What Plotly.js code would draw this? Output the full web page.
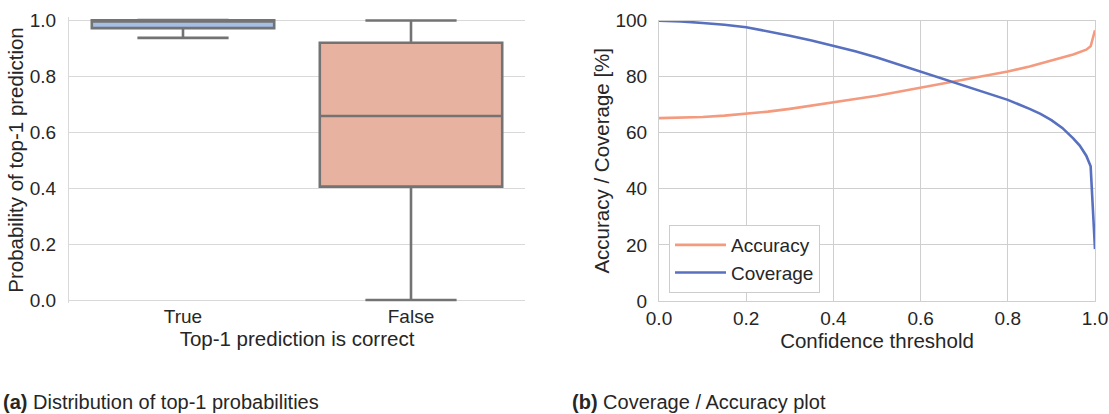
<!DOCTYPE html>
<html>
<head>
<meta charset="utf-8">
<script src="https://cdn.plot.ly/plotly-3.0.1.min.js"></script>
<style>html,body{margin:0;padding:0;background:#fff;}#chart{width:1109px;height:414px;}</style>
</head>
<body>
<div id="chart"></div>
<script>
// ---- Data (a): box statistics of top-1 probabilities ----
const boxCategories = ["True", "False"];
const boxLowerFence = [0.936, 0.0];
const boxQ1 = [0.971, 0.405];
const boxMedian = [0.995, 0.657];
const boxQ3 = [0.999, 0.919];
const boxUpperFence = [1.0, 0.998];

// ---- Data (b): coverage / accuracy vs confidence threshold ----
const thresholds = [0, 0.05, 0.1, 0.15, 0.2, 0.25, 0.3, 0.35, 0.4, 0.45, 0.5, 0.55, 0.6, 0.65, 0.7, 0.75, 0.8, 0.85, 0.875, 0.9, 0.925, 0.95, 0.965, 0.98, 0.99, 1.0];
const accuracy = [65.2, 65.3, 65.6, 66.1, 66.7, 67.5, 68.5, 69.6, 70.8, 72.0, 73.2, 74.6, 76.0, 77.5, 79.0, 80.4, 81.8, 83.6, 84.6, 85.7, 86.8, 87.9, 88.7, 89.6, 90.8, 96.5];
const coverage = [99.9, 99.7, 99.1, 98.5, 97.6, 96.2, 94.6, 92.9, 91.0, 89.0, 86.8, 84.3, 81.8, 79.2, 76.8, 74.3, 71.7, 68.5, 66.7, 64.5, 61.7, 58.0, 55.4, 51.8, 48.0, 18.5];

const boxFills = ["#a6bde6", "#e7b3a0"];
const FONT = "Liberation Sans, Arial, sans-serif";
const TXT = "#262626";
const W = 1109, H = 414;

const traces = boxCategories.map((c, i) => ({
  type: "box",
  x: [c],
  q1: [boxQ1[i]], median: [boxMedian[i]], q3: [boxQ3[i]],
  lowerfence: [boxLowerFence[i]], upperfence: [boxUpperFence[i]],
  fillcolor: boxFills[i],
  line: {color: "#737373", width: 2.6},
  width: 0.8,
  whiskerwidth: 0.5,
  xaxis: "x", yaxis: "y",
  showlegend: false,
  hoverinfo: "skip"
}));

traces.push({
  type: "scatter", mode: "lines", name: "Accuracy",
  x: thresholds, y: accuracy,
  line: {color: "#f49a7e", width: 2.6},
  xaxis: "x2", yaxis: "y2"
});
traces.push({
  type: "scatter", mode: "lines", name: "Coverage",
  x: thresholds, y: coverage,
  line: {color: "#5870c0", width: 2.6},
  xaxis: "x2", yaxis: "y2"
});

const tickFont = {family: FONT, size: 19, color: TXT};
const titleFont = {family: FONT, size: 20.5, color: TXT};

const layout = {
  width: W, height: H,
  margin: {l: 0, r: 0, t: 0, b: 0},
  paper_bgcolor: "#fff", plot_bgcolor: "#fff",
  showlegend: true,
  font: {family: FONT, color: TXT},
  xaxis: {
    domain: [69 / W, 525 / W],
    type: "category",
    range: [-0.5, 1.5],
    showgrid: false, zeroline: false, showline: false,
    ticks: "", tickfont: tickFont,
    title: {text: "Top-1 prediction is correct", font: titleFont, standoff: 4}
  },
  yaxis: {
    domain: [(H - 302.8) / H, (H - 17.2) / H],
    range: [-0.01, 1.01],
    tickvals: [0, 0.2, 0.4, 0.6, 0.8, 1.0],
    ticktext: ["0.0", "0.2", "0.4", "0.6", "0.8", "1.0"],
    showgrid: true, gridcolor: "#d9d9d9", gridwidth: 1,
    zeroline: false, showline: true, linecolor: "#d9d9d9", linewidth: 1,
    ticks: "", ticklabelstandoff: 8, tickfont: tickFont,
    title: {text: "Probability of top-1 prediction", font: titleFont, standoff: 0}
  },
  xaxis2: {
    domain: [659 / W, 1095 / W],
    range: [0, 1],
    tickvals: [0, 0.2, 0.4, 0.6, 0.8, 1.0],
    ticktext: ["0.0", "0.2", "0.4", "0.6", "0.8", "1.0"],
    showgrid: true, gridcolor: "#cfcfcf", gridwidth: 1,
    zeroline: false, showline: true, mirror: true, linecolor: "#cfcfcf", linewidth: 1,
    ticks: "", tickfont: tickFont, anchor: "y2",
    title: {text: "Confidence threshold", font: titleFont, standoff: 4}
  },
  yaxis2: {
    domain: [(H - 301) / H, (H - 20.5) / H],
    range: [0, 100],
    tickvals: [0, 20, 40, 60, 80, 100],
    showgrid: true, gridcolor: "#cfcfcf", gridwidth: 1,
    zeroline: false, showline: true, mirror: true, linecolor: "#cfcfcf", linewidth: 1,
    ticks: "", ticklabelstandoff: 7, tickfont: tickFont, anchor: "x2",
    title: {text: "Accuracy / Coverage [%]", font: titleFont, standoff: 0}
  },
  legend: {
    x: 669 / W, y: (H - 225) / H, xanchor: "left", yanchor: "top",
    bgcolor: "#fff", bordercolor: "#cccccc", borderwidth: 1,
    itemwidth: 51,
    font: {family: FONT, size: 19, color: TXT}
  },
  annotations: [
    {xref: "paper", yref: "paper", x: 1 / W, y: (H - 402) / H, xanchor: "left", yanchor: "middle",
     showarrow: false, text: "<b>(a)</b> Distribution of top-1 probabilities", font: {family: FONT, size: 20, color: TXT}},
    {xref: "paper", yref: "paper", x: 570 / W, y: (H - 402) / H, xanchor: "left", yanchor: "middle",
     showarrow: false, text: "<b>(b)</b> Coverage / Accuracy plot", font: {family: FONT, size: 20, color: TXT}}
  ]
};

Plotly.newPlot("chart", traces, layout, {staticPlot: true, displayModeBar: false});
</script>
</body>
</html>
